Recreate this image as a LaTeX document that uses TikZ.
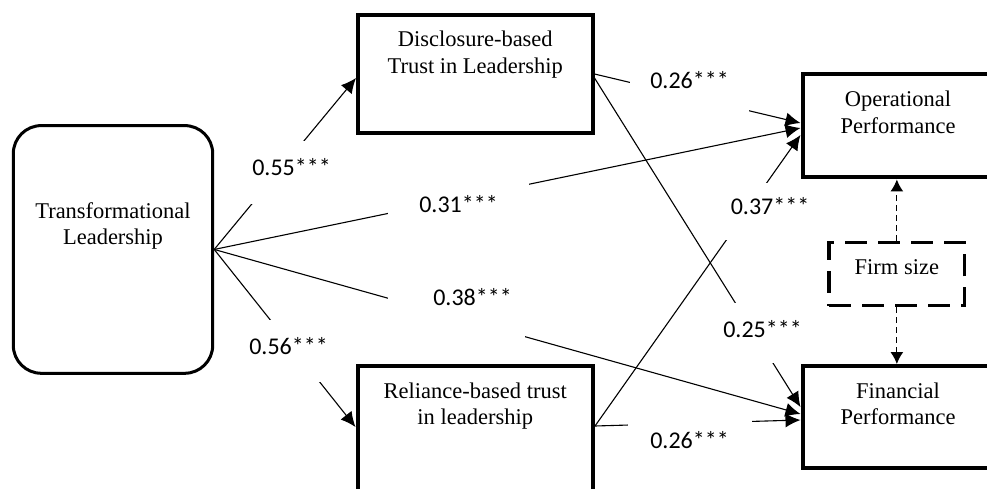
\documentclass[tikz,border=0pt]{standalone}
\usepackage{fontspec}
\setmainfont{Liberation Serif}
\newfontfamily\labfont{Carlito}
\usetikzlibrary{arrows.meta}
\newcommand\boxtxt[4]{\parbox[c][#2][t]{#1}{\centering\rule{0pt}{#3}#4}}
\begin{document}
\begin{tikzpicture}[x=1pt,y=-1pt,
  box/.style={draw, line width=4pt, inner sep=0pt, font=\rmfamily\fontsize{22.5}{26.5}\selectfont},
  conn/.style={line width=1.1pt, -{Latex[length=15pt,width=14pt]}},
  dconn/.style={line width=1.2pt, dash pattern=on 6pt off 4pt, -{Latex[length=12pt,width=13pt]}},
  lab/.style={fill=white, inner sep=0pt, font=\labfont\fontsize{24}{28}\selectfont, text height=15pt, text depth=0pt}]
\useasboundingbox (0,0) rectangle (987,489);
% boxes
\node[box, line width=3pt, rounded corners=28pt] (tl) at (113,249.45) {\boxtxt{199.4pt}{247.7pt}{92.7pt}{Transformational\\Leadership}};
\node[box] (disc) at (475.25,74) {\boxtxt{234.5pt}{118.6pt}{32pt}{Disclosure-based\\Trust in Leadership}};
\node[box] (op) at (898,125.75) {\boxtxt{191pt}{103.5pt}{32.7pt}{Operational\\Performance}};
\node[box] (fin) at (898,417) {\boxtxt{191pt}{102pt}{32.3pt}{Financial\\Performance}};
\node[box] (rel) at (475.25,431) {\boxtxt{235.5pt}{130pt}{32.3pt}{Reliance-based trust\\in leadership}};
\node[box, line width=3.5pt, dash pattern=on 22pt off 11pt] (firm) at (896.85,274.1) {\boxtxt{135.7pt}{63.2pt}{31.8pt}{Firm size}};
% connectors
\draw[conn] (tl.east) -- ([yshift=-4pt]disc.west);
\draw[conn] (tl.east) -- ([yshift=-2.25pt]op.west);
\draw[conn] (disc.east) -- ([yshift=2.75pt]op.west);
\draw[conn] ([yshift=5pt]rel.east) -- ([yshift=-9.25pt]op.west);
\draw[conn] ([yshift=-4pt]disc.east) -- ([yshift=10pt]fin.west);
\draw[conn] (tl.east) -- ([yshift=3pt]fin.west);
\draw[conn] ([yshift=5pt]rel.east) -- ([yshift=-3pt]fin.west);
\draw[conn] (tl.east) -- ([yshift=4pt]rel.west);
\draw[dconn] (firm.north) -- (firm.north |- op.south);
\draw[dconn] (firm.south) -- (firm.south |- fin.north);
% labels
\node[lab, minimum width=87pt, minimum height=63pt, text depth=8pt] (l1) at (291.5,172.5) {0.55***};
\node[lab, minimum width=141pt, minimum height=40pt, text height=26pt] (l2) at (458.5,199) {0.31***};
\node[lab, minimum width=119pt, minimum height=46pt, text depth=23pt] (l3) at (689.5,93) {0.26***};
\node[lab, minimum width=90pt, minimum height=57pt, text depth=10pt] (l4) at (770,211.5) {0.37***};
\node[lab, minimum width=81pt, minimum height=60pt, text depth=7pt] (l5) at (762.5,333) {0.25***};
\node[lab, minimum width=137pt, minimum height=54pt, text depth=30pt] (l6) at (456.5,313) {\hspace*{32pt}0.38***};
\node[lab, minimum width=124pt, minimum height=38pt, text height=30pt] (l7) at (689.5,433) {0.26***};
\node[lab, minimum width=87pt, minimum height=62pt, text depth=9pt] (l8) at (288.5,351) {0.56***};
\end{tikzpicture}
\end{document}
